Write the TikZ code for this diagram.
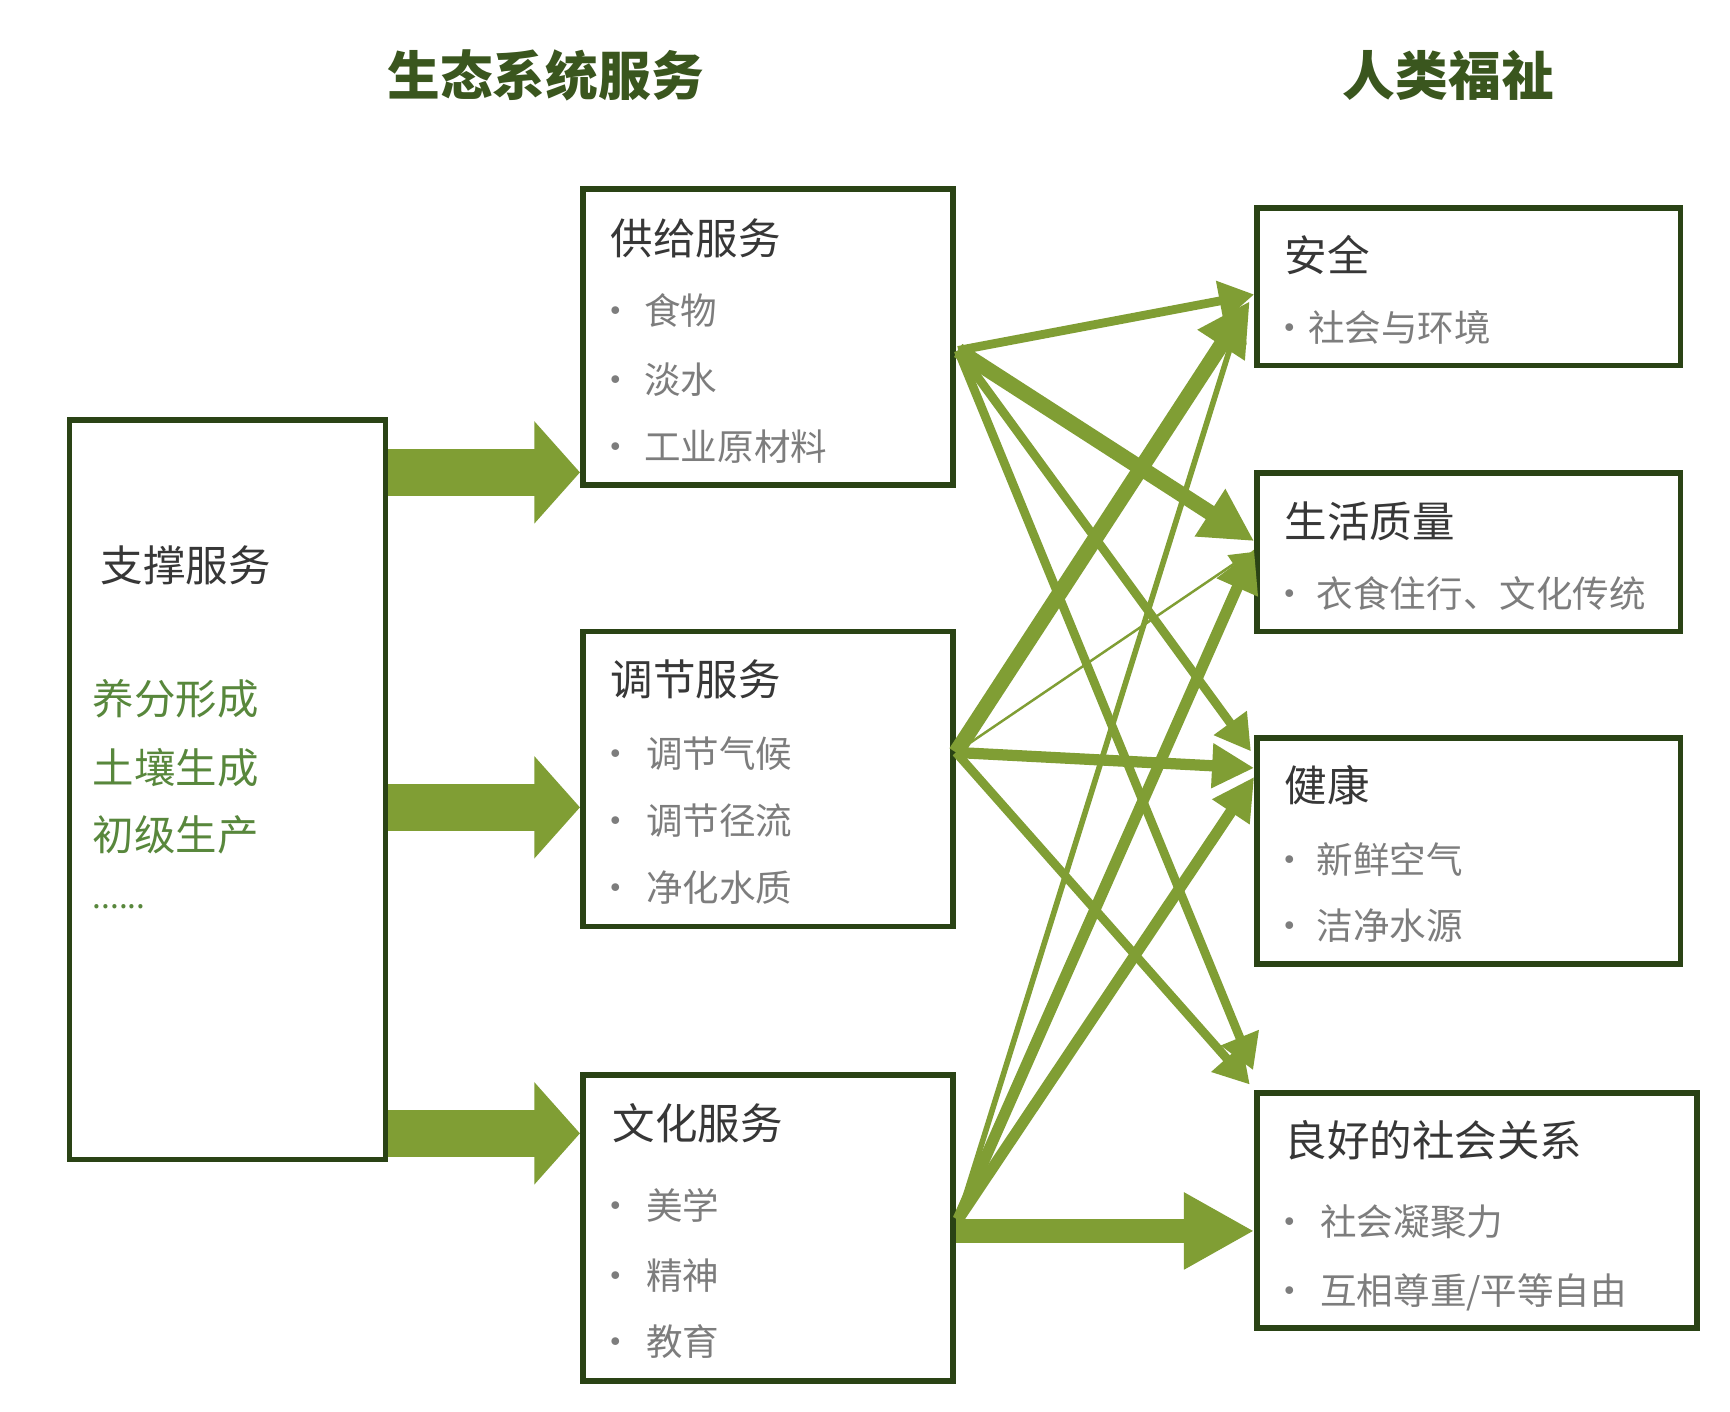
\documentclass[tikz,border=0pt]{standalone}
\usepackage{fontspec}
\setmainfont{Noto Sans CJK SC}
\usetikzlibrary{arrows.meta, fit, calc}
\definecolor{boxgreen}{RGB}{42,67,21}
\definecolor{arrgreen}{RGB}{128,158,52}
\definecolor{titlegreen}{RGB}{58,86,30}
\definecolor{listgreen}{RGB}{88,135,60}
\definecolor{headgray}{RGB}{55,55,55}
\definecolor{itemgray}{RGB}{125,125,125}

\begin{document}
\begin{tikzpicture}[x=0.01109cm, y=-0.01109cm,
    box/.style={draw=boxgreen, line width=1.6pt, fill=white, inner sep=-0.8pt},
    title node/.style={font=\fontsize{15}{18}\selectfont\bfseries, text=titlegreen},
    head node/.style={anchor=west, inner sep=0pt, font=\fontsize{12.1}{14}\selectfont, text=headgray},
    item node/.style={anchor=west, inner sep=0pt, font=\fontsize{10.4}{12}\selectfont, text=itemgray},
    list node/.style={anchor=west, inner sep=0pt, font=\fontsize{11.8}{14}\selectfont, text=listgreen},
    block arrow/.style={draw=arrgreen, line width=13.3pt, -{Triangle[length=13pt, width=28.4pt]}},
    wide arrow/.style={draw=arrgreen, line width=7pt, -{Triangle[length=20pt, width=20.5pt]}},
    thick arrow/.style={draw=arrgreen, line width=4.4pt, -{Triangle[length=15pt, width=15pt]}},
    mid arrow/.style={draw=arrgreen, line width=3.2pt, -{Triangle[length=12pt, width=12pt]}},
    slim arrow/.style={draw=arrgreen, line width=2.5pt, -{Triangle[length=10pt, width=11pt]}},
    fine arrow/.style={draw=arrgreen, line width=1.6pt, -{Triangle[length=8pt, width=8pt]}},
    hair arrow/.style={draw=arrgreen, line width=0.7pt, -{Triangle[length=6pt, width=6pt]}}]

\fill[white] (0,0) rectangle (1560,1273);
\useasboundingbox (0,0) rectangle (1560,1273);

\node[title node] (esTitle) at (492,68) {生态系统服务};
\node[title node] (wbTitle) at (1306,68) {人类福祉};

% ecosystem services
\node[box, fit={(60,376) (350,1048)}] (sup) {};
\node[box, fit={(523,168) (862,440)}] (prov) {};
\node[box, fit={(523,567) (862,838)}] (reg) {};
\node[box, fit={(523,967) (862,1248)}] (cul) {};

\node[head node] (supHead) at (90,510) {支撑服务};
\node[list node] (supA) at (83,630) {养分形成};
\node[list node] (supB) at (83,692) {土壤生成};
\node[list node] (supC) at (83,753) {初级生产};
\node[list node, font=\fontsize{9}{10}\selectfont] (supD) at (83,818) {......};

\node[head node] (provHead) at (550,215) {供给服务};
\node[item node] (provA) at (538,280) {•\hspace{3pt}食物};
\node[item node] (provB) at (538,342) {•\hspace{3pt}淡水};
\node[item node] (provC) at (538,403) {•\hspace{3pt}工业原材料};

\node[head node] (regHead) at (550,613) {调节服务};
\node[item node] (regA) at (538,680) {•\hspace{3.5pt}调节气候};
\node[item node] (regB) at (538,740) {•\hspace{3.5pt}调节径流};
\node[item node] (regC) at (538,800) {•\hspace{3.5pt}净化水质};

\node[head node] (culHead) at (552,1013) {文化服务};
\node[item node] (culA) at (538,1087) {•\hspace{3.5pt}美学};
\node[item node] (culB) at (538,1150) {•\hspace{3.5pt}精神};
\node[item node] (culC) at (538,1210) {•\hspace{3.5pt}教育};

% human well-being
\node[box, fit={(1131,185) (1518,332)}] (sec) {};
\node[box, fit={(1131,424) (1518,572)}] (qual) {};
\node[box, fit={(1131,663) (1518,872)}] (hlth) {};
\node[box, fit={(1131,983) (1533,1200)}] (soc) {};

\node[head node] (secHead) at (1158,230) {安全};
\node[item node] (secA) at (1146,295) {•社会与环境};

\node[head node] (qualHead) at (1158,470) {生活质量};
\node[item node] (qualA) at (1146,535) {•\hspace{2.5pt}衣食住行、文化传统};

\node[head node] (hlthHead) at (1158,708) {健康};
\node[item node] (hlthA) at (1146,775) {•\hspace{2.5pt}新鲜空气};
\node[item node] (hlthB) at (1146,835) {•\hspace{2.5pt}洁净水源};

\node[head node] (socHead) at (1158,1028) {良好的社会关系};
\node[item node] (socA) at (1146,1102) {•\hspace{3.5pt}社会凝聚力};
\node[item node] (socB) at (1146,1165) {•\hspace{3.5pt}互相尊重/平等自由};

% support to the three services
\draw[block arrow] (sup.east |- 0,426) -- (prov.west |- 0,426);
\draw[block arrow] (sup.east |- 0,728) -- (reg.west |- 0,728);
\draw[block arrow] (sup.east |- 0,1022) -- (cul.west |- 0,1022);

% services to well-being
\draw[slim arrow] ($(prov.east)+(2,12)$) -- ($(sec.west)+(0,7)$);
\draw[thick arrow] ($(prov.east)+(2,12)$) -- ($(qual.west)+(0,-10)$);
\draw[slim arrow] ($(prov.east)+(2,12)$) -- ($(hlth.west)+(-3,-90)$);
\draw[slim arrow] ($(prov.east)+(2,12)$) -- ($(soc.north west)+(-1,-18)$);

\draw[thick arrow] ($(reg.east)+(0,-24)$) -- ($(sec.west)+(-4,13)$);
\draw[hair arrow] ($(reg.east)+(0,-24)$) -- ($(qual.west)+(-3,0)$);
\draw[mid arrow] ($(reg.east)+(0,-24)$) -- ($(hlth.west)+(0,-75)$);
\draw[slim arrow] ($(reg.east)+(0,-24)$) -- ($(soc.north west)+(-4,-5)$);

\draw[fine arrow] ($(cul.east)+(2,-8)$) -- ($(sec.west)+(-12,24)$);
\draw[mid arrow] ($(cul.east)+(2,-8)$) -- ($(qual.west)+(0,-3)$);
\draw[mid arrow] ($(cul.east)+(2,-8)$) -- ($(hlth.west)+(0,-67)$);
\draw[wide arrow] (cul.east |- 0,1110) -- (soc.west |- 0,1110);
\end{tikzpicture}
\end{document}
